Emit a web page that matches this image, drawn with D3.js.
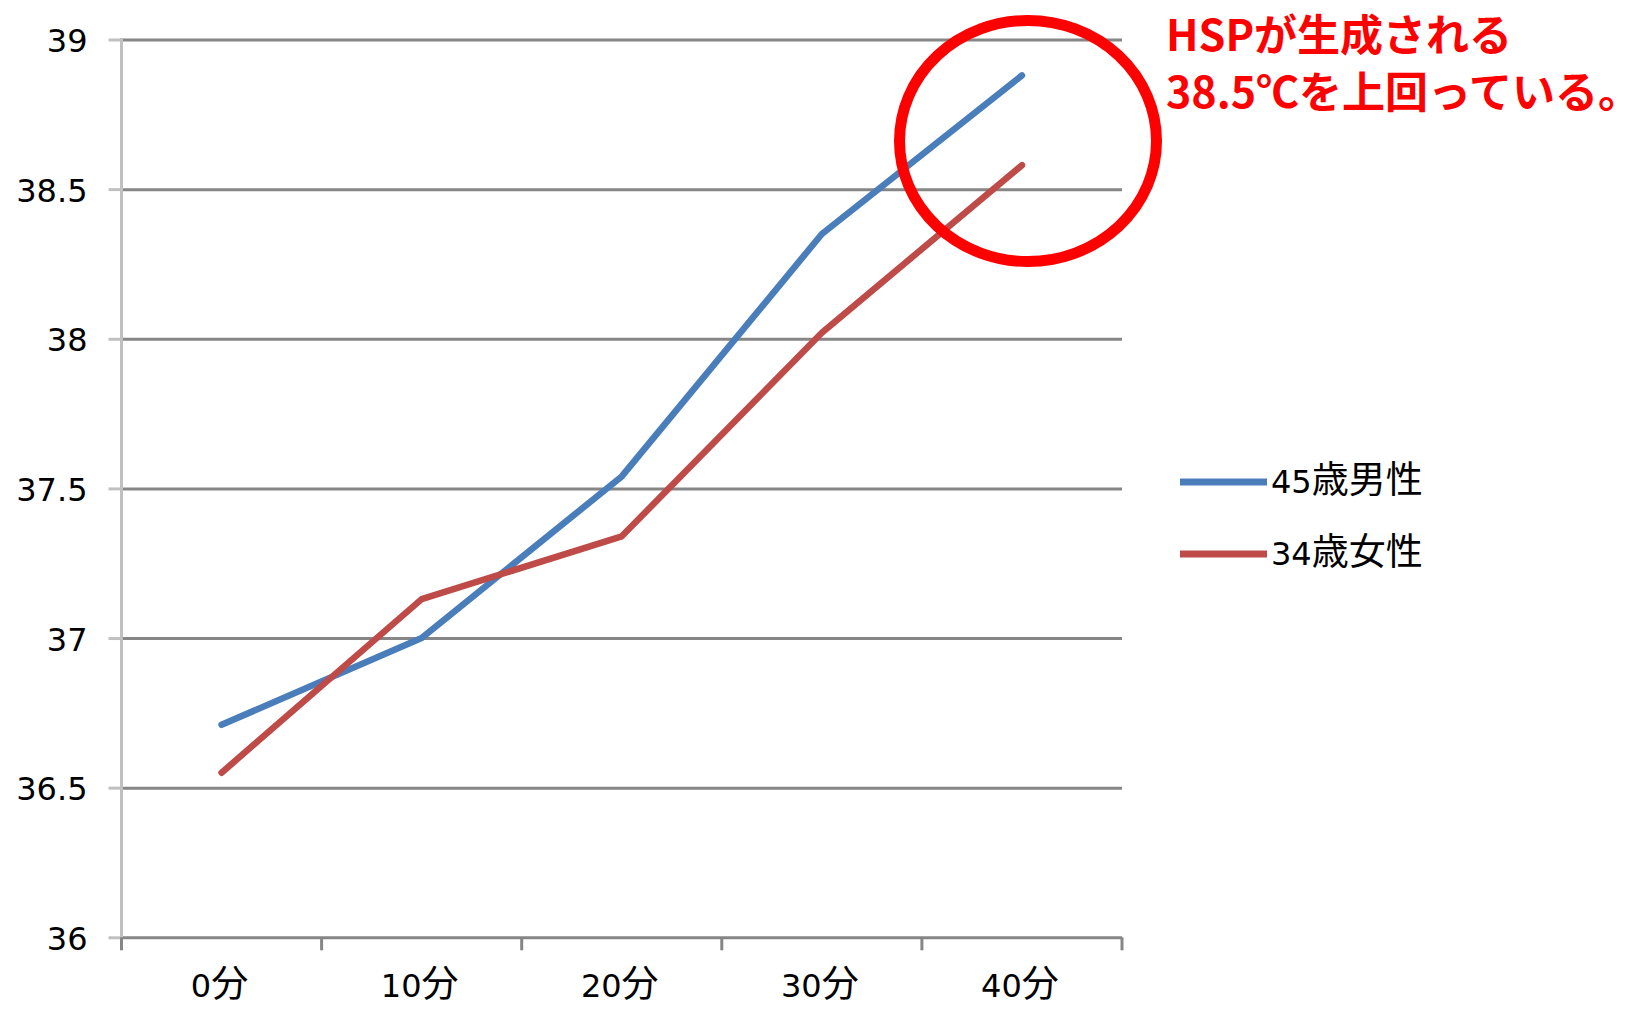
<!DOCTYPE html>
<html lang="ja">
<head>
<meta charset="utf-8">
<script src="https://cdn.jsdelivr.net/npm/d3@7"></script>
<style>
  html, body { margin: 0; padding: 0; background: #ffffff; }
  svg { display: block; }
</style>
</head>
<body>
<svg id="chart" width="1644" height="1009"></svg>
<script>
// Body temperature (°C) measured every 10 minutes
const categories = ["0分", "10分", "20分", "30分", "40分"];
const male45 = [36.71, 37.00, 37.54, 38.35, 38.88];
const female34 = [36.55, 37.13, 37.34, 38.02, 38.58];
const seriesNames = ["45歳男性", "34歳女性"];
const yTicks = [36, 36.5, 37, 37.5, 38, 38.5, 39];
const yTickLabels = ["36", "36.5", "37", "37.5", "38", "38.5", "39"];
const noteLines = ["HSPが生成される", "38.5℃を上回っている。"];

const colors = ["#4a7ebb", "#be4b48"];
const gridColor = "#868686";
const axisColor = "#c0c0c0";
const latinFont = "'DejaVu Sans', Verdana, sans-serif";
const cjkFont = "'Noto Sans CJK JP', sans-serif";

const svg = d3.select("#chart");
const plot = { left: 121.5, right: 1122, top: 39.5, bottom: 937.3 };

const x = d3.scaleBand().domain(categories).range([plot.left, plot.right]).padding(0);
const y = d3.scaleLinear().domain([36, 39]).range([plot.bottom, plot.top]);

// split a label into digit runs and CJK runs so each uses its own font
function fillMixed(sel, str) {
  const parts = str.match(/[0-9.]+|[^0-9.]+/g) || [];
  parts.forEach(p => {
    const isNum = /^[0-9.]+$/.test(p);
    sel.append("tspan")
      .attr("font-family", isNum ? latinFont : cjkFont)
      .attr("font-size", isNum ? 32 : 37)
      .text(p);
  });
}

// horizontal gridlines (the lowest one doubles as the category axis)
const grid = svg.append("g")
  .attr("transform", `translate(${plot.left},0)`)
  .call(d3.axisLeft(y).tickValues(yTicks).tickSize(-(plot.right - plot.left)).tickFormat(""));
grid.select(".domain").remove();
grid.selectAll("line").attr("stroke", gridColor).attr("stroke-width", 3);

// value axis: light gray line with short outer ticks and labels
const yAxis = svg.append("g")
  .attr("transform", `translate(${plot.left},0)`)
  .call(d3.axisLeft(y).tickValues(yTicks).tickSize(13).tickPadding(21)
    .tickFormat((d, i) => yTickLabels[i]));
yAxis.select(".domain").remove();
yAxis.selectAll(".tick line").attr("stroke", axisColor).attr("stroke-width", 3);
yAxis.selectAll(".tick text")
  .attr("font-family", latinFont).attr("font-size", 32).attr("fill", "#000")
  .attr("dy", "0.38em");
svg.append("line")
  .attr("x1", plot.left).attr("x2", plot.left)
  .attr("y1", y(39) - 1.5).attr("y2", y(36))
  .attr("stroke", axisColor).attr("stroke-width", 3);

// category axis ticks at band boundaries
const boundaries = categories.map(c => x(c)).concat([x(categories[categories.length - 1]) + x.bandwidth()]);
svg.append("g").selectAll("line").data(boundaries).join("line")
  .attr("x1", d => d).attr("x2", d => d)
  .attr("y1", y(36)).attr("y2", y(36) + 13)
  .attr("stroke", gridColor).attr("stroke-width", 3);

// category labels
svg.append("g").selectAll("text").data(categories).join("text")
  .attr("x", d => x(d) + x.bandwidth() / 2 - 2)
  .attr("y", 997)
  .attr("text-anchor", "middle")
  .attr("fill", "#000")
  .each(function(d) { fillMixed(d3.select(this), d); });

// series lines
const line = d3.line()
  .x((d, i) => x(categories[i]) + x.bandwidth() / 2)
  .y(d => y(d));

[male45, female34].forEach((vals, i) => {
  svg.append("path")
    .datum(vals)
    .attr("d", line)
    .attr("fill", "none")
    .attr("stroke", colors[i])
    .attr("stroke-width", 6.5)
    .attr("stroke-linejoin", "round")
    .attr("stroke-linecap", "round");
});

// legend
const legend = svg.append("g");
seriesNames.forEach((name, i) => {
  const ly = 482 + i * 72;
  legend.append("line")
    .attr("x1", 1180).attr("x2", 1267)
    .attr("y1", ly).attr("y2", ly)
    .attr("stroke", colors[i]).attr("stroke-width", 7);
  const t = legend.append("text")
    .attr("x", 1271).attr("y", ly + 11)
    .attr("fill", "#000");
  fillMixed(t, name);
});

// highlight ring around the final readings
svg.append("ellipse")
  .attr("cx", 1028).attr("cy", 141)
  .attr("rx", 128.5).attr("ry", 120.5)
  .attr("fill", "none")
  .attr("stroke", "#ff0000")
  .attr("stroke-width", 11);

// annotation
svg.append("g").selectAll("text").data(noteLines).join("text")
  .attr("x", 1166)
  .attr("y", (d, i) => 51 + i * 57)
  .attr("font-family", cjkFont)
  .attr("font-weight", 700)
  .attr("font-size", 43)
  .attr("fill", "#ff0000")
  .text(d => d);
</script>
</body>
</html>
